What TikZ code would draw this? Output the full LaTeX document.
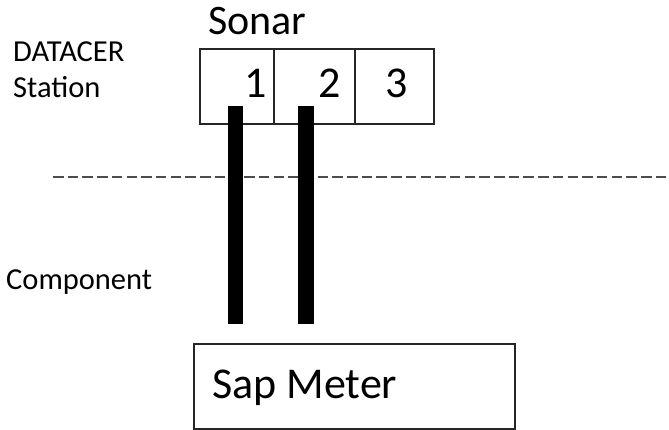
\documentclass[tikz,border=0pt]{standalone}
\usepackage{fontspec}
\setmainfont{Carlito}
\begin{document}
\begin{tikzpicture}[x=1pt,y=-1pt,
  cell/.style={draw=black!85,line width=1.5pt,inner sep=0pt,anchor=north west},
  lbl/.style={inner sep=0pt,anchor=base west,font=\fontsize{30.5}{36}\selectfont},
  big/.style={inner sep=0pt,anchor=base west,font=\fontsize{42}{48}\selectfont},
  bigger/.style={inner sep=0pt,anchor=base west,font=\fontsize{44}{50}\selectfont},
  bar/.style={line width=15.5pt,line cap=butt},
  sep/.style={draw=black!70,line width=1.5pt,dash pattern=on 10.5pt off 4.2pt}]
\useasboundingbox (0,0) rectangle (669,429);
% sonar cells
\node[cell,minimum width=74pt,minimum height=75pt] (c1) at (199,48) {};
\node[cell,minimum width=81pt,minimum height=75pt] (c2) at (273,48) {};
\node[cell,minimum width=79pt,minimum height=75pt] (c3) at (354,48) {};
\node[big] (sonar) at (208,34) {Sonar};
\node[bigger] (n1) at (244,97) {1};
\node[bigger] (n2) at (318,97) {2};
\node[bigger] (n3) at (385,97) {3};
% labels
\node[lbl] (dat) at (13,61) {DATACER};
\node[lbl] (sta) at (13,97) {Station};
\node[lbl] (comp) at (6,289) {Component};
% sap meter
\node[cell,minimum width=321pt,minimum height=85pt] (sap) at (193,343) {};
\node[bigger] (saptxt) at (212,398) {Sap Meter};
% separator
\coordinate (sepL) at (53,177);
\coordinate (sepR) at (669,177);
\draw[sep] (sepL) -- (sepR);
% bars
\coordinate (b1t) at (235.5,106);
\coordinate (b1b) at (235.5,324);
\coordinate (b2t) at (306,106);
\coordinate (b2b) at (306,324);
\draw[bar] (b1t) -- (b1b);
\draw[bar] (b2t) -- (b2b);
\end{tikzpicture}
\end{document}
